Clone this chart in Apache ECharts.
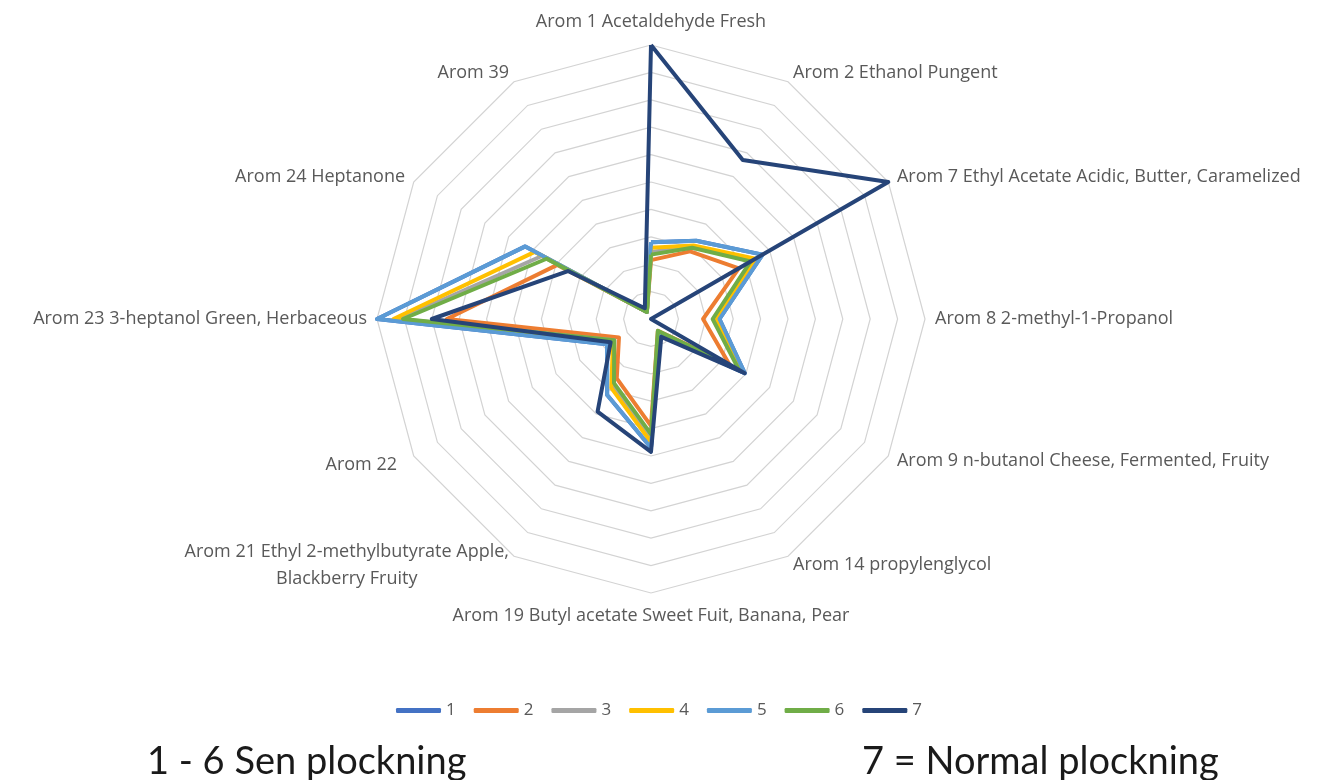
<!DOCTYPE html>
<html>
<head>
<meta charset="utf-8">
<script src="https://cdn.jsdelivr.net/npm/echarts@6/dist/echarts.min.js"></script>
<style>
  html, body { margin: 0; padding: 0; background: #fff; }
  #chart { width: 1334px; height: 780px; }
</style>
</head>
<body>
<div id="chart"></div>
<script>
// axes as they appear in the picture, clockwise from the top
const aromas = [
  'Arom 1 Acetaldehyde Fresh',
  'Arom 2 Ethanol Pungent',
  'Arom 7 Ethyl Acetate Acidic, Butter, Caramelized',
  'Arom 8 2-methyl-1-Propanol',
  'Arom 9 n-butanol Cheese, Fermented, Fruity',
  'Arom 14 propylenglycol',
  'Arom 19 Butyl acetate Sweet Fuit, Banana, Pear',
  'Arom 21 Ethyl 2-methylbutyrate Apple,\nBlackberry Fruity',
  'Arom 22',
  'Arom 23 3-heptanol Green, Herbaceous',
  'Arom 24 Heptanone',
  'Arom 39'
];

const seriesNames = ['1', '2', '3', '4', '5', '6', '7'];

const s1 = [2.8, 3.3, 4.7, 2.5, 3.95, 0.6, 4.7, 3.2, 1.85, 10, 5.3, 0.3];
const s2 = [2.15, 2.85, 3.7, 1.9, 3.3, 0.5, 3.9, 2.5, 1.35, 7.45, 3.95, 0.3];
const s3 = [2.45, 3.05, 4.3, 2.3, 3.75, 0.55, 4.35, 2.8, 1.55, 9.2, 4.6, 0.3];
const s4 = [2.6, 3.1, 4.4, 2.35, 3.8, 0.55, 4.5, 2.9, 1.6, 9.4, 4.9, 0.3];
const s5 = [2.8, 3.3, 4.7, 2.5, 3.95, 0.6, 4.7, 3.2, 1.85, 10, 5.3, 0.3];
const s6 = [2.35, 3.0, 4.2, 2.25, 3.7, 0.5, 4.2, 2.7, 1.55, 9.05, 4.4, 0.3];
const s7 = [10, 6.7, 10, 0, 3.95, 0.75, 4.85, 3.9, 1.7, 8.0, 3.5, 0.45];

const colors = ['#4472C4', '#ED7D31', '#A5A5A5', '#FFC000', '#5B9BD5', '#70AD47', '#264478'];

// echarts lays radar indicators out counter-clockwise, so flip the order
function ccw(arr) {
  return [arr[0]].concat(arr.slice(1).reverse());
}

const allValues = [s1, s2, s3, s4, s5, s6, s7];

let myChart = echarts.init(document.getElementById('chart'));

const labelFont = 'Open Sans';
const labelSize = 18;

let option = {
  animation: false,
  legend: {
    data: seriesNames,
    left: 391,
    top: 697,
    icon: 'roundRect',
    itemWidth: 45,
    itemHeight: 5,
    itemGap: 18,
    textStyle: { color: '#595959', fontSize: 17, fontFamily: labelFont }
  },
  graphic: [
    {
      type: 'text', left: 147, top: 743,
      style: { text: '1 - 6 Sen plockning', font: '38px Lato', fill: '#1a1a1a' }
    },
    {
      type: 'text', left: 862, top: 743,
      style: { text: '7 = Normal plockning', font: '38px Lato', fill: '#1a1a1a' }
    }
  ],
  radar: {
    center: [651, 319],
    radius: 274,
    startAngle: 90,
    splitNumber: 10,
    shape: 'polygon',
    nameGap: 10,
    indicator: ccw(aromas).map(function (n) { return { name: n, min: 0, max: 10 }; }),
    axisName: {
      color: '#595959',
      fontSize: labelSize,
      fontFamily: labelFont,
      lineHeight: 26,
      formatter: function (name) {
        if (name === 'Arom 22') return '{p|' + name + '}';
        if (name.indexOf('\n') < 0) return name;
        return name.split('\n').map(function (l) { return '{c|' + l + '}'; }).join('\n');
      },
      rich: {
        c: { align: 'center', color: '#595959', fontSize: labelSize, fontFamily: labelFont, lineHeight: 27 },
        p: { color: '#595959', fontSize: labelSize, fontFamily: labelFont, padding: [8, 8, 0, 0] }
      }
    },
    axisLine: { show: false },
    axisTick: { show: false },
    axisLabel: { show: false },
    splitArea: { show: false },
    splitLine: { lineStyle: { color: '#d3d3d3', width: 1.2 } }
  },
  series: [
    {
      type: 'radar',
      symbol: 'none',
      data: seriesNames.map(function (n, i) {
        return {
          name: n,
          value: ccw(allValues[i]),
          itemStyle: { color: colors[i] },
          lineStyle: { color: colors[i], width: 4, join: 'round' }
        };
      })
    }
  ]
};

option && myChart.setOption(option);
</script>
</body>
</html>
